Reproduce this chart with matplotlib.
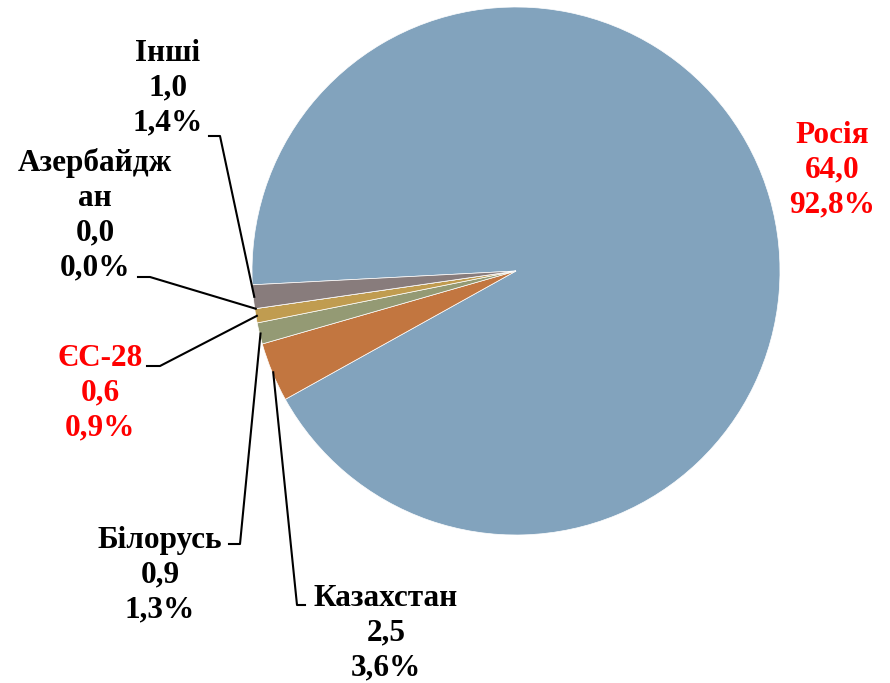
import numpy as np
import matplotlib.pyplot as plt

# Data (export shares, bln)
countries = ["Росія", "Казахстан", "Білорусь", "ЄС-28", "Азербайджан", "Інші"]
label_names = ["Росія", "Казахстан", "Білорусь", "ЄС-28", "Азербайдж\nан", "Інші"]
values = [64.0, 2.5, 0.9, 0.6, 0.0, 1.0]
colors = ["#82A3BD", "#C27640", "#949A74", "#C09C50", "#B0A070", "#887C7C"]
label_colors = ["red", "black", "black", "red", "black", "black"]

# label layout in pixels (top-left origin): text centre, leader elbow
text_pos = [(832, 170), (386, 633), (160, 575), (100, 393), (95, 215), (168, 88)]
# (x where the leader starts, y of horizontal part, x of elbow) or None
leaders = [None, (305, 605, 297), (229, 544, 240), (147, 366, 160),
           (138, 277, 150), (209, 136, 220)]

W, H = 890, 683
fig = plt.figure(figsize=(8.9, 6.83), dpi=100)
ax = fig.add_axes([0, 0, 1, 1])

cx, cy, r = 516, H - 271, 264
wedges, _ = ax.pie(values, colors=colors, startangle=183, counterclock=False,
                   center=(cx, cy), radius=r, frame=True,
                   wedgeprops=dict(edgecolor="white", linewidth=0.5))
ax.set_xlim(0, W)
ax.set_ylim(0, H)
ax.set_aspect("equal")
ax.axis("off")

total = sum(values)
for i, w in enumerate(wedges):
    pct = values[i] / total * 100
    txt = "{}\n{}\n{}%".format(label_names[i],
                               ("%.1f" % values[i]).replace(".", ","),
                               ("%.1f" % pct).replace(".", ","))
    tx, ty = text_pos[i]
    ax.text(tx, H - ty, txt, ha="center", va="center", fontsize=22.5,
            fontweight="bold", family="Liberation Serif", color=label_colors[i],
            linespacing=1.27)
    if leaders[i] is not None:
        lx, ly, ex = leaders[i]
        mid = np.deg2rad((w.theta1 + w.theta2) / 2)
        ax_x = cx + r * np.cos(mid) + 1
        ax_y = cy + r * np.sin(mid)
        ax.plot([lx, ex, ax_x], [H - ly, H - ly, ax_y], color="black", lw=1.5)

fig.savefig("out.png", dpi=100)
